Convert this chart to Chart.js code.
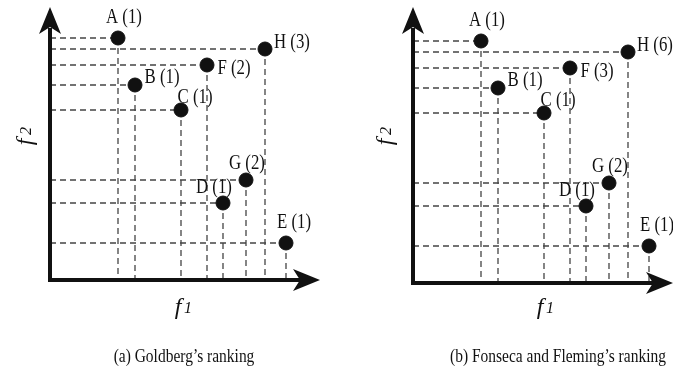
<!DOCTYPE html>
<html>
<head>
<meta charset="utf-8">
<script src="https://cdn.jsdelivr.net/npm/chart.js@4.4.1/dist/chart.umd.min.js"></script>
<style>
  body { margin: 0; background: #fff; }
  .panel { position: absolute; top: 0; }
</style>
</head>
<body>
<canvas id="goldberg" class="panel" width="336" height="370" style="left:0"></canvas>
<canvas id="fonseca" class="panel" width="337" height="370" style="left:336px"></canvas>
<script>
// Solutions in objective space (f1, f2)
const pointNames = ['A', 'B', 'C', 'D', 'E', 'F', 'G', 'H'];
const f1Values = [68, 85, 131, 173, 236, 157, 196, 215];
const f2Values = [242, 195, 170, 77, 37, 215, 100, 231];
// Rank given to each solution
const goldbergRanks = [1, 1, 1, 1, 1, 2, 2, 3];
const fonsecaRanks = [1, 1, 1, 1, 1, 3, 2, 6];

// where each label sits relative to its dot (px)
const labelOffsets = {
    A: [6, -21], B: [27, -8], C: [14, -13], D: [-9, -16],
    E: [8, -21], F: [27, 3], G: [1, -17], H: [27, -7]
};

const INK = '#111';

function condensedText(ctx, text, x, y, sx) {
    ctx.save();
    ctx.translate(x, y);
    ctx.scale(sx, 1);
    ctx.fillText(text, 0, 0);
    ctx.restore();
}

const rankingPlugin = {
    id: 'ranking',
    beforeDatasetsDraw(chart, args, opts) {
        const { ctx, chartArea: a, scales: { x, y } } = chart;
        const x0 = a.left, y0 = a.bottom;

        // dashed projections onto both axes
        ctx.save();
        ctx.strokeStyle = '#444';
        ctx.lineWidth = 1.3;
        ctx.setLineDash([6, 4]);
        f1Values.forEach((v, i) => {
            const px = x.getPixelForValue(v);
            const py = y.getPixelForValue(f2Values[i]);
            ctx.beginPath();
            ctx.moveTo(x0, py);
            ctx.lineTo(px, py);
            ctx.moveTo(px, py);
            ctx.lineTo(px, y0);
            ctx.stroke();
        });
        ctx.restore();

        // axes with arrow heads
        ctx.save();
        ctx.strokeStyle = INK;
        ctx.fillStyle = INK;
        ctx.lineWidth = 4;
        ctx.beginPath();
        ctx.moveTo(x0, y0 + 2);
        ctx.lineTo(x0, a.top + 20);
        ctx.moveTo(x0 - 2, y0);
        ctx.lineTo(a.right - 20, y0);
        ctx.stroke();

        ctx.beginPath();
        ctx.moveTo(x0, a.top - 1);
        ctx.lineTo(x0 - 11, a.top + 26);
        ctx.lineTo(x0, a.top + 19);
        ctx.lineTo(x0 + 11, a.top + 26);
        ctx.closePath();
        ctx.fill();

        ctx.beginPath();
        ctx.moveTo(a.right, y0);
        ctx.lineTo(a.right - 27, y0 - 11);
        ctx.lineTo(a.right - 20, y0);
        ctx.lineTo(a.right - 27, y0 + 11);
        ctx.closePath();
        ctx.fill();
        ctx.restore();
    },
    afterDatasetsDraw(chart, args, opts) {
        const { ctx, chartArea: a, scales: { x, y } } = chart;
        ctx.save();
        ctx.fillStyle = INK;
        ctx.textAlign = 'center';
        ctx.textBaseline = 'middle';
        ctx.font = '21px "Liberation Serif", serif';
        pointNames.forEach((n, i) => {
            const px = x.getPixelForValue(f1Values[i]);
            const py = y.getPixelForValue(f2Values[i]);
            const [dx, dy] = labelOffsets[n];
            condensedText(ctx, n + ' (' + opts.ranks[i] + ')', px + dx, py + dy, 0.8);
        });

        // axis titles
        ctx.textBaseline = 'alphabetic';
        const fx = opts.f1x, fy = 314;
        ctx.font = 'italic 24px "Liberation Serif", serif';
        ctx.fillText('f', fx - 4, fy);
        ctx.font = 'italic 16px "Liberation Serif", serif';
        ctx.fillText('1', fx + 6, fy - 1);

        ctx.save();
        ctx.translate(opts.f2x, 137);
        ctx.rotate(-Math.PI / 2);
        ctx.font = 'italic 24px "Liberation Serif", serif';
        ctx.fillText('f', -5, 8);
        ctx.font = 'italic 16px "Liberation Serif", serif';
        ctx.fillText('2', 6, 7);
        ctx.restore();

        // caption
        ctx.font = '18px "Liberation Serif", serif';
        condensedText(ctx, opts.caption, opts.capx, 362, 0.86);
        ctx.restore();
    }
};

function makeRankingChart(id, ranks, o) {
    const ctx = document.getElementById(id).getContext('2d');
    return new Chart(ctx, {
        type: 'scatter',
        data: {
            datasets: [{
                data: f1Values.map((v, i) => ({ x: v, y: f2Values[i] })),
                backgroundColor: INK,
                borderColor: INK,
                pointRadius: 7,
                pointHoverRadius: 7,
                clip: false
            }]
        },
        options: {
            responsive: false,
            animation: false,
            layout: { autoPadding: false, padding: o.padding },
            scales: {
                x: { type: 'linear', display: false, min: 0, max: o.xMax },
                y: { type: 'linear', display: false, min: 0, max: o.yMax }
            },
            plugins: {
                legend: { display: false },
                tooltip: { enabled: false },
                ranking: {
                    ranks: ranks,
                    caption: o.caption,
                    capx: o.capx,
                    f1x: o.f1x,
                    f2x: o.f2x
                }
            }
        },
        plugins: [rankingPlugin]
    });
}

makeRankingChart('goldberg', goldbergRanks, {
    padding: { left: 50, top: 8, right: 16, bottom: 90 },
    xMax: 270, yMax: 272,
    caption: '(a) Goldberg\u2019s ranking', capx: 184,
    f1x: 182, f2x: 24
});

makeRankingChart('fonseca', fonsecaRanks, {
    padding: { left: 77, top: 8, right: 0, bottom: 87 },
    xMax: 260, yMax: 275,
    caption: '(b) Fonseca and Fleming\u2019s ranking', capx: 222,
    f1x: 208, f2x: 48
});
</script>
</body>
</html>
